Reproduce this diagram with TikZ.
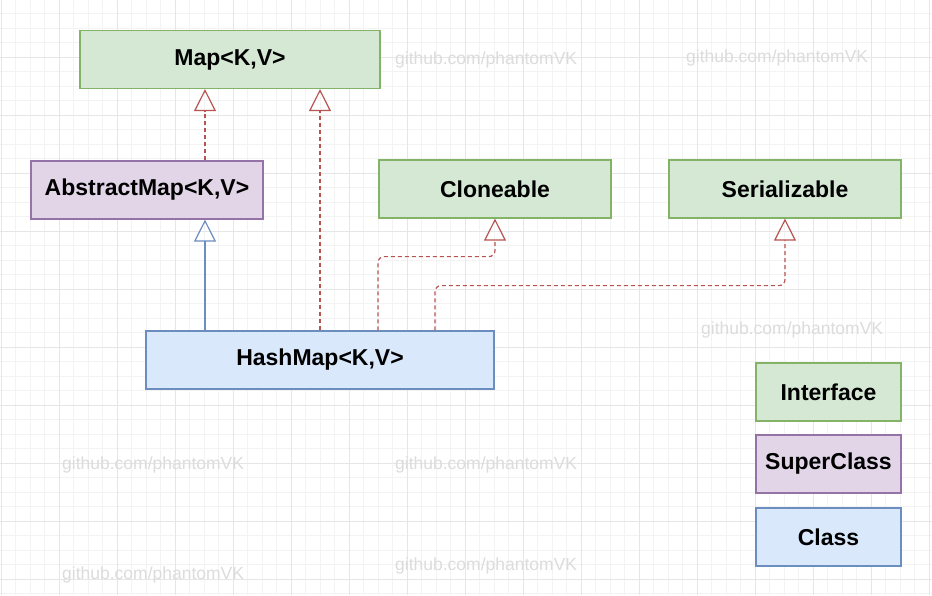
\documentclass[tikz,border=0pt]{standalone}
\usepackage{fontspec}
\setmainfont{Liberation Sans}
\usetikzlibrary{arrows.meta}
\definecolor{ifill}{HTML}{D5E8D4}
\definecolor{idraw}{HTML}{82B366}
\definecolor{sfill}{HTML}{E1D5E7}
\definecolor{sdraw}{HTML}{9673A6}
\definecolor{cfill}{HTML}{DAE8FC}
\definecolor{cdraw}{HTML}{6C8EBF}
\definecolor{rline}{HTML}{B85450}
\definecolor{wmcol}{HTML}{DCDCDC}
\definecolor{gminor}{HTML}{F3F3F3}
\definecolor{gmajor}{HTML}{E6E6E6}
\begin{document}
\begin{tikzpicture}[x=1pt,y=-1pt,
	box/.style={draw,line width=1.2pt,inner sep=0pt,minimum height=58pt,
		font=\fontsize{23}{26}\selectfont\bfseries},
	iface/.style={box,fill=ifill,draw=idraw},
	superc/.style={box,fill=sfill,draw=sdraw},
	cls/.style={box,fill=cfill,draw=cdraw},
	impl/.style={draw=rline,line width=1.2pt,dash pattern=on 4pt off 3pt,
		-{Triangle[open,length=22pt,width=22pt]}},
	ext/.style={draw=cdraw,line width=1.2pt,-{Triangle[open,length=22pt,width=22pt]}},
	wmark/.style={anchor=west,inner sep=0pt,text=wmcol,font=\fontsize{17.5}{20}\selectfont}]
	\useasboundingbox[fill=white] (0,0) rectangle (932,595);
	\foreach \i in {0,...,64}{
		\draw[gminor,line width=0.8pt] ({1+14.5*\i},0) -- ({1+14.5*\i},595);
	}
	\foreach \i in {0,...,41}{
		\draw[gminor,line width=0.8pt] (0,{-1+14.5*\i}) -- (932,{-1+14.5*\i});
	}
	\foreach \i in {0,...,16}{
		\draw[gmajor,line width=0.9pt] ({1+58*\i},0) -- ({1+58*\i},595);
	}
	\foreach \i in {1,...,10}{
		\draw[gmajor,line width=0.9pt] (0,{-1+58*\i}) -- (932,{-1+58*\i});
	}
	\foreach \x/\y [count=\n] in {395/60,686/58,701/330,62/465,395/465,62/575,395/566}{
		\node[wmark] (wm\n) at (\x,\y) {github.com/phantomVK};
	}
	\node[iface,minimum width=300pt] (map) at (230,59.5) {Map<K,V>};
	\node[superc,minimum width=232pt] (abstract) at (147,190) {AbstractMap<K,V>};
	\node[iface,minimum width=232pt] (clone) at (495,189) {Cloneable};
	\node[iface,minimum width=232pt] (serial) at (785,189) {Serializable};
	\node[cls,minimum width=348pt] (hashmap) at (320,360) {HashMap<K,V>};
	\node[iface,minimum width=145pt] (ilegend) at (828.5,392) {Interface};
	\node[superc,minimum width=145pt] (slegend) at (828.5,464) {SuperClass};
	\node[cls,minimum width=145pt] (clegend) at (828.5,537) {Class};
	\draw[impl] ([xshift=58pt]abstract.north) -- ([xshift=58pt]abstract.north |- map.south);
	\draw[impl] (hashmap.north) -- (hashmap.north |- map.south);
	\draw[ext] ([xshift=-115pt]hashmap.north) -- ([xshift=-115pt]hashmap.north |- abstract.south);
	\draw[impl,rounded corners=6pt] ([xshift=58pt]hashmap.north) |- ([yshift=-38pt]clone.south) -- (clone.south);
	\draw[impl,rounded corners=6pt] ([xshift=115pt]hashmap.north) |- ([yshift=-67pt]serial.south) -- (serial.south);
\end{tikzpicture}
\end{document}
